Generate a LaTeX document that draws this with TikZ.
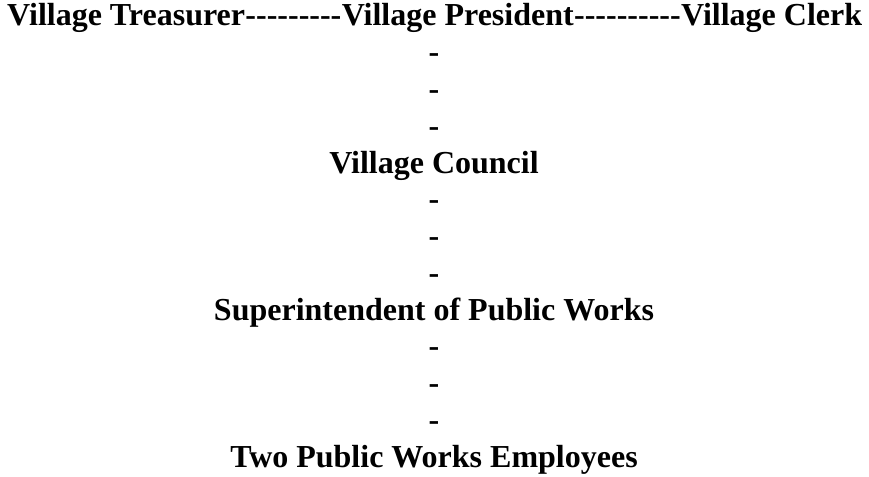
\documentclass[tikz,border=0pt]{standalone}
\usepackage{fontspec}
\usetikzlibrary{positioning}
% no TeX ligatures, so that -- stays two hyphens
\newfontfamily\orgfont{Liberation Serif}

\tikzset{post/.style={font=\orgfont\bfseries\fontsize{32}{36}\selectfont, inner sep=0pt, anchor=base},
    link/.style={post},
}

\begin{document}
\begin{tikzpicture}[x=1pt, y=-36.75pt]
	\useasboundingbox (0, -26/36.75) rectangle (869, 450/36.75);

	% top row
	\node[post, anchor=base west] (treasurer) at (7, 0) {Village Treasurer};
	\node[link, anchor=base west] (linkA) at (treasurer.base east) {---------};
	\node[post, anchor=base west] (president) at (linkA.base east) {Village President};
	\node[link, anchor=base west] (linkB) at (president.base east) {----------};
	\node[post, anchor=base west] (clerk) at (linkB.base east) {Village Clerk};

	% president down to council
	\foreach \i in {1, 2, 3} {
		\node[link] (upper\i) at (434, \i) {-};
	}
	\node[post] (council) at (434, 4) {Village Council};

	% council down to superintendent
	\foreach \i in {5, 6, 7} {
		\node[link] (middle\i) at (434, \i) {-};
	}
	\node[post] (super) at (434, 8) {Superintendent of Public Works};

	% superintendent down to employees
	\foreach \i in {9, 10, 11} {
		\node[link] (lower\i) at (434, \i) {-};
	}
	\node[post] (staff) at (434, 12) {Two Public Works Employees};
\end{tikzpicture}
\end{document}
